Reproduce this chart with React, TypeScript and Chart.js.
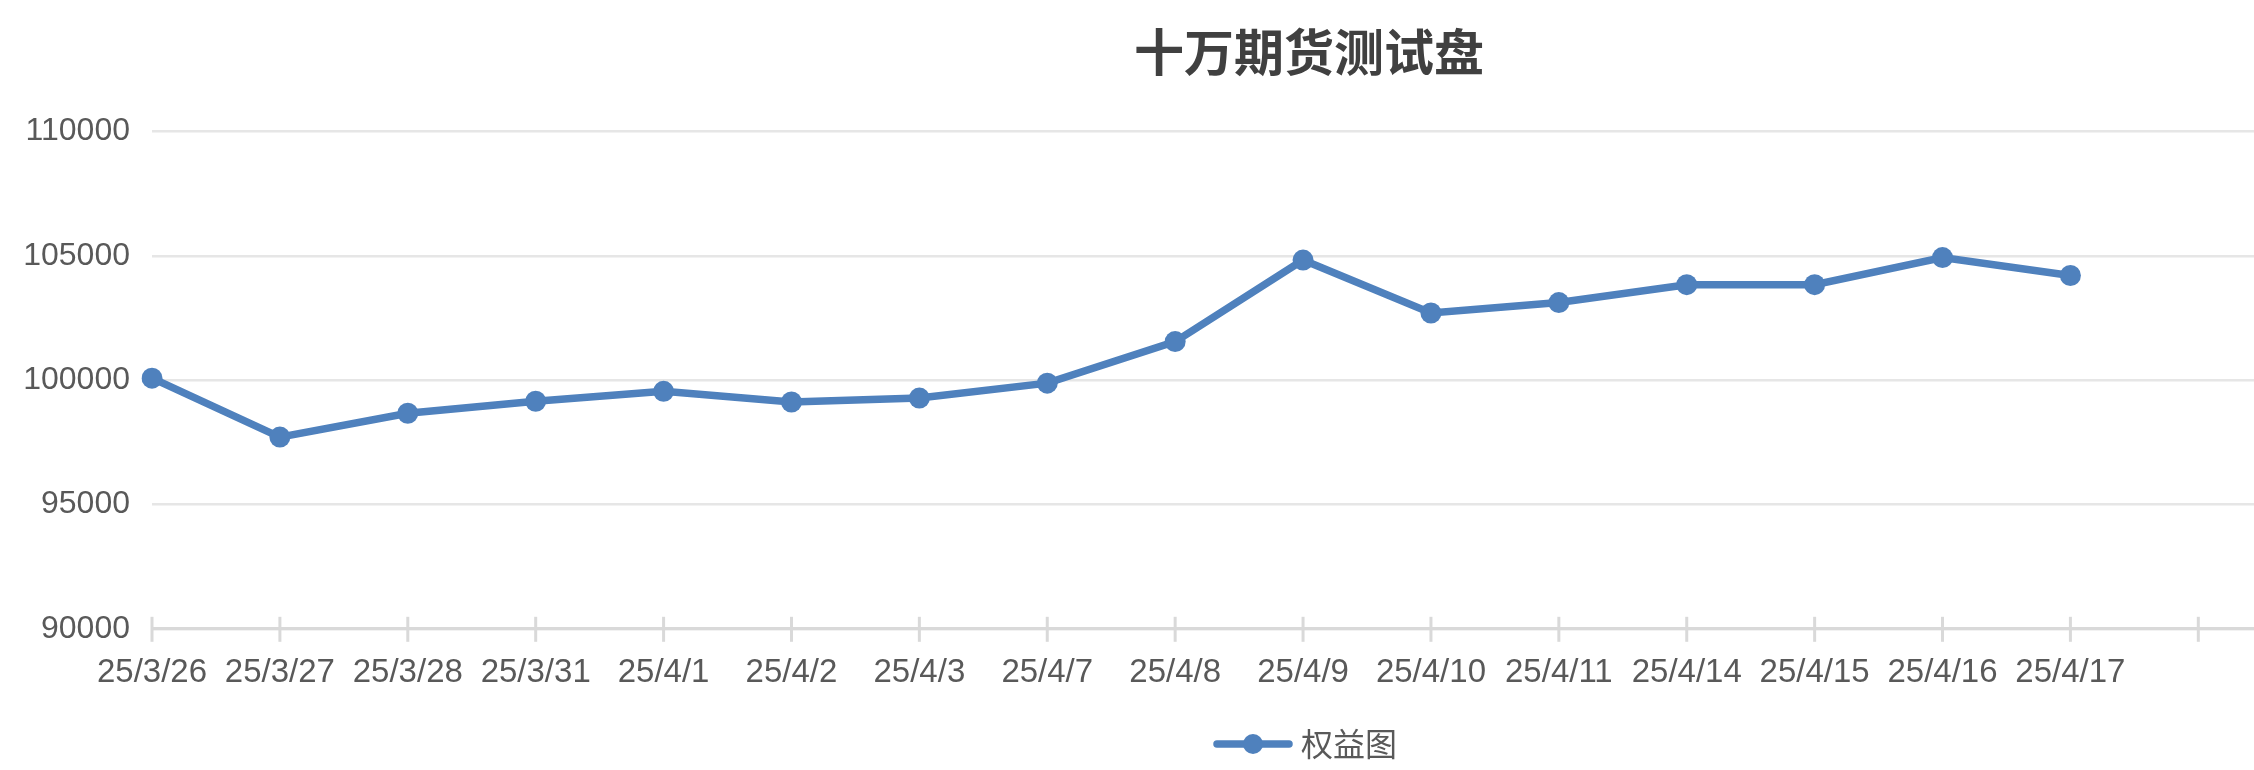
import { useEffect, useRef } from "react"
import { Chart, registerables } from "chart.js"
import type { Plugin } from "chart.js"

Chart.register(...registerables)

const title = "十万期货测试盘"
const seriesName = "权益图"
const dates = [
  "25/3/26", "25/3/27", "25/3/28", "25/3/31", "25/4/1", "25/4/2", "25/4/3", "25/4/7",
  "25/4/8", "25/4/9", "25/4/10", "25/4/11", "25/4/14", "25/4/15", "25/4/16", "25/4/17",
]
const equity = [
  100080, 97710, 98670, 99150, 99550, 99120, 99280, 99880,
  101550, 104830, 102700, 103120, 103840, 103840, 104930, 104210,
]
// empty category slots after the last date (the axis runs on past the data)
const emptySlots = ["", "", "", ""]
const yMin = 90000
const yMax = 110000
const yStep = 5000

const lineColor = "#4F81BD"
const axisColor = "#d9d9d9"
const labelColor = "#595959"
const sansFamily = "'Liberation Sans', Arial, sans-serif"

// Excel-style "cross" tick marks on the category axis
const crossTicks: Plugin<"line"> = {
  id: "crossTicks",
  beforeDatasetsDraw(chart) {
    const x = chart.scales.x
    const ctx = chart.ctx
    const y = chart.chartArea.bottom
    ctx.save()
    ctx.strokeStyle = axisColor
    ctx.lineWidth = 3
    x.ticks.forEach((_, i) => {
      const px = x.getPixelForTick(i)
      ctx.beginPath()
      ctx.moveTo(px, y - 12)
      ctx.lineTo(px, y + 13)
      ctx.stroke()
    })
    ctx.restore()
  },
}

function legendSymbol() {
  const c = document.createElement("canvas")
  c.width = 80
  c.height = 22
  const g = c.getContext("2d")
  if (g) {
    g.strokeStyle = lineColor
    g.fillStyle = lineColor
    g.lineWidth = 7.5
    g.lineCap = "round"
    g.beginPath()
    g.moveTo(4, 11)
    g.lineTo(76, 11)
    g.stroke()
    g.beginPath()
    g.arc(40, 11, 10, 0, Math.PI * 2)
    g.fill()
  }
  return c
}

export default function App() {
  const chartRef = useRef<HTMLCanvasElement>(null)
  const chartInstance = useRef<Chart | null>(null)

  useEffect(() => {
    if (!chartRef.current) return
    if (chartInstance.current) chartInstance.current.destroy()
    const ctx = chartRef.current.getContext("2d")
    if (!ctx) return

    chartInstance.current = new Chart(ctx, {
      type: "line",
      data: {
        labels: [...dates, ...emptySlots],
        datasets: [
          {
            label: seriesName,
            data: equity,
            borderColor: lineColor,
            backgroundColor: lineColor,
            borderWidth: 7.5,
            pointRadius: 10.5,
            pointBorderWidth: 0,
            pointBackgroundColor: lineColor,
            tension: 0,
          },
        ],
      },
      options: {
        responsive: false,
        animation: false,
        devicePixelRatio: 1,
        layout: { padding: { left: 20, right: 0, top: 0, bottom: 0 } },
        scales: {
          x: {
            offset: false,
            grid: { display: false },
            border: { display: true, color: axisColor, width: 3 },
            ticks: {
              autoSkip: false,
              maxRotation: 0,
              padding: 16,
              color: labelColor,
              font: { family: sansFamily, size: 33 },
            },
          },
          y: {
            min: yMin,
            max: yMax,
            afterFit: (scale) => {
              scale.width = 132
            },
            grid: { color: "#e6e6e6", lineWidth: 2.5, drawTicks: false },
            border: { display: false },
            ticks: {
              stepSize: yStep,
              padding: 22,
              color: labelColor,
              font: { family: sansFamily, size: 32 },
              callback: (v) => String(v),
            },
          },
        },
        plugins: {
          title: {
            display: true,
            text: title,
            color: "#404040",
            font: { family: "'Noto Sans CJK SC', sans-serif", size: 50, weight: "bold" },
            padding: { top: 21.6, bottom: 49.9 },
          },
          legend: {
            position: "bottom",
            labels: {
              usePointStyle: true,
              pointStyle: legendSymbol(),
              pointStyleWidth: 64,
              boxHeight: 22,
              padding: 19.6,
              color: labelColor,
              font: { family: "'Noto Sans CJK SC', sans-serif", size: 32 },
            },
          },
          tooltip: { enabled: false },
        },
      },
      plugins: [crossTicks],
    })

    return () => {
      if (chartInstance.current) {
        chartInstance.current.destroy()
        chartInstance.current = null
      }
    }
  }, [])

  return (
    <div
      style={{
        position: "absolute",
        left: 0,
        top: 0,
        width: "100vw",
        height: "100vh",
        overflow: "hidden",
        background: "#fff",
      }}
    >
      <canvas ref={chartRef} width={2598} height={770} style={{ display: "block" }}></canvas>
    </div>
  )
}
